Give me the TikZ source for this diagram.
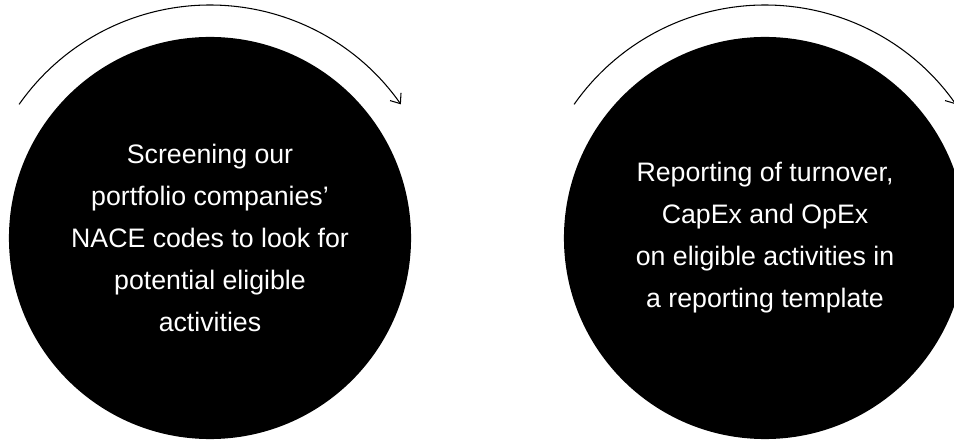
\documentclass[tikz,border=0pt]{standalone}
\usepackage{fontspec}
\setmainfont{Liberation Sans}
\usetikzlibrary{arrows.meta}
\tikzset{
    stepdisc/.style = {circle, fill = black, text = white, inner sep = 0pt,
        minimum size = 10.05cm, align = center,
        font = \fontsize{19}{29.9}\selectfont},
    turn/.style = {line width = 0.75pt, -{Straight Barb[length = 6pt, width = 9.5pt]}}
}
\begin{document}
\begin{tikzpicture}[x = 0.025cm, y = 0.025cm]
        \useasboundingbox (0, 0) rectangle (954, 441);
        \clip (0, 0) rectangle (954, 441);

        \node [stepdisc] (screen) at (210, 203)
            {Screening our\\ portfolio companies'\\ NACE codes to look for\\ potential eligible\\ activities};
        \node [stepdisc] (report) at (765, 203)
            {Reporting of turnover,\\ CapEx and OpEx\\ on eligible activities in\\ a reporting template};

        \draw [turn] ([shift = {(145:233)}] screen.center) arc [start angle = 145, end angle = 35, radius = 233];
        \draw [turn] ([shift = {(145:233)}] report.center) arc [start angle = 145, end angle = 35, radius = 233];
    \end{tikzpicture}
\end{document}
